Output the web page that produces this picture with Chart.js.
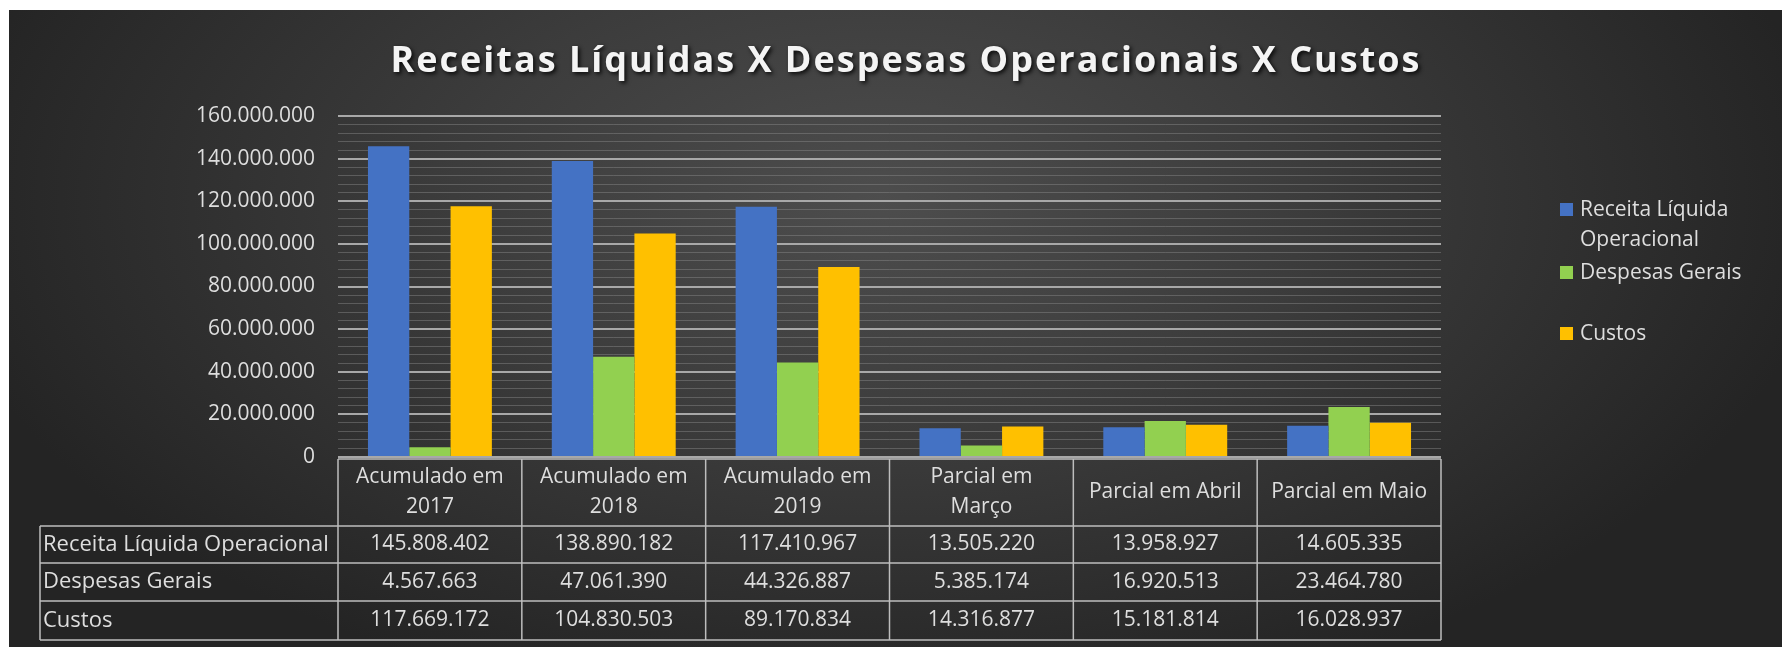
<!DOCTYPE html>
<html>
<head>
<meta charset="utf-8">
<script src="https://cdn.jsdelivr.net/npm/chart.js@4.4.1/dist/chart.umd.min.js"></script>
<style>
  html, body { margin: 0; padding: 0; background: #fff; }
  canvas { display: block; }
</style>
</head>
<body>
<canvas id="chart" width="1782" height="647"></canvas>
<script>
// Chart data
const chartTitle = 'Receitas Líquidas X Despesas Operacionais X Custos';
const categories = [
    ['Acumulado em', '2017'],
    ['Acumulado em', '2018'],
    ['Acumulado em', '2019'],
    ['Parcial em', 'Março'],
    'Parcial em Abril',
    'Parcial em Maio'
];
const seriesNames = ['Receita Líquida Operacional', 'Despesas Gerais', 'Custos'];
const receita = [145808402, 138890182, 117410967, 13505220, 13958927, 14605335];
const despesas = [4567663, 47061390, 44326887, 5385174, 16920513, 23464780];
const custos = [117669172, 104830503, 89170834, 14316877, 15181814, 16028937];
const seriesColors = ['#4472C4', '#92D050', '#FFC000'];
const yMin = 0;
const yMax = 160000000;
const yMajorStep = 20000000;
const yMinorStep = 4000000;

const FONT = '"Open Sans", "Noto Sans", sans-serif';
const TEXT_COLOR = '#dedede';
const LINE_COLOR = '#bdbdbd';

// format with dots as thousands separator
function fmt(v) {
    return String(Math.round(v)).replace(/\B(?=(\d{3})+(?!\d))/g, '.');
}

// Background: white frame + dark radial gradient
const backgroundPlugin = {
    id: 'bg',
    beforeDraw(chart) {
        const ctx = chart.ctx;
        const w = chart.width, h = chart.height;
        ctx.save();
        ctx.fillStyle = '#ffffff';
        ctx.fillRect(0, 0, w, h);
        ctx.beginPath();
        ctx.rect(9, 10, w - 9, h - 10);
        ctx.clip();
        ctx.translate(880, 200);
        ctx.scale(1, 0.55);
        const g = ctx.createRadialGradient(0, 0, 0, 0, 0, 950);
        g.addColorStop(0, '#4d4d4d');
        g.addColorStop(0.45, '#3c3c3c');
        g.addColorStop(1, '#242424');
        ctx.fillStyle = g;
        ctx.fillRect(-900, -400, 2000, 1400);
        ctx.restore();
    }
};

// Title with expanded spacing and shadow
const titlePlugin = {
    id: 'bigTitle',
    afterDraw(chart) {
        const ctx = chart.ctx;
        ctx.save();
        ctx.font = 'bold 36px ' + FONT;
        ctx.letterSpacing = '2px';
        ctx.textAlign = 'center';
        ctx.textBaseline = 'alphabetic';
        ctx.shadowColor = 'rgba(0,0,0,0.85)';
        ctx.shadowBlur = 4;
        ctx.shadowOffsetX = 2;
        ctx.shadowOffsetY = 2;
        ctx.fillStyle = '#f4f4f4';
        ctx.fillText(chartTitle, 906, 72);
        ctx.restore();
    }
};

// Legend drawn on the right
const legendPlugin = {
    id: 'sideLegend',
    afterDraw(chart) {
        const ctx = chart.ctx;
        const items = [
            { lines: ['Receita Líquida', 'Operacional'], y: 210 },
            { lines: ['Despesas Gerais'], y: 273 },
            { lines: ['Custos'], y: 334 }
        ];
        ctx.save();
        ctx.font = '21px ' + FONT;
        ctx.textBaseline = 'middle';
        ctx.textAlign = 'left';
        items.forEach((it, i) => {
            const ds = chart.data.datasets[i];
            ctx.fillStyle = ds.backgroundColor;
            ctx.fillRect(1560, it.y - 7, 13, 13);
            ctx.fillStyle = TEXT_COLOR;
            it.lines.forEach((ln, k) => ctx.fillText(ln, 1580, it.y + k * 30));
        });
        ctx.restore();
    }
};

// Data table under the x axis
const tablePlugin = {
    id: 'dataTable',
    afterDraw(chart) {
        const ctx = chart.ctx;
        const xs = chart.scales.x;
        const area = chart.chartArea;
        const n = categories.length;
        const colW = (area.right - area.left) / n;
        const labelLeft = 40;
        const headTop = area.bottom + 2;
        const rowTops = [526, 563, 601, 640];
        const rows = [receita, despesas, custos];

        ctx.save();
        ctx.strokeStyle = LINE_COLOR;
        ctx.lineWidth = 1.5;
        ctx.beginPath();
        // horizontal lines
        ctx.moveTo(area.left, headTop); ctx.lineTo(area.right, headTop);
        rowTops.forEach(y => { ctx.moveTo(labelLeft, y); ctx.lineTo(area.right, y); });
        // vertical lines
        ctx.moveTo(labelLeft, rowTops[0]); ctx.lineTo(labelLeft, rowTops[3]);
        for (let i = 0; i <= n; i++) {
            const x = area.left + i * colW;
            ctx.moveTo(x, headTop); ctx.lineTo(x, rowTops[3]);
        }
        ctx.stroke();

        ctx.fillStyle = TEXT_COLOR;
        ctx.textBaseline = 'middle';
        rows.forEach((vals, r) => {
            const cy = (rowTops[r] + rowTops[r + 1]) / 2;
            ctx.font = '22px ' + FONT;
            ctx.textAlign = 'left';
            ctx.fillText(seriesNames[r], labelLeft + 3, cy);
            ctx.font = '21px ' + FONT;
            ctx.textAlign = 'center';
            vals.forEach((v, i) => ctx.fillText(fmt(v), xs.getPixelForValue(i), cy));
        });
        ctx.restore();
    }
};

const ctx = document.getElementById('chart').getContext('2d');
new Chart(ctx, {
    type: 'bar',
    data: {
        labels: categories,
        datasets: seriesNames.map((name, i) => ({
            label: name,
            data: [receita, despesas, custos][i],
            backgroundColor: seriesColors[i],
            borderWidth: 0,
            categoryPercentage: 0.674,
            barPercentage: 1.0
        }))
    },
    options: {
        responsive: false,
        animation: false,
        layout: { padding: { top: 116, left: 0, right: 341, bottom: 0 } },
        plugins: {
            legend: { display: false },
            title: { display: false },
            tooltip: { enabled: false }
        },
        scales: {
            x: {
                grid: { display: false, drawTicks: false },
                border: { display: false },
                ticks: {
                    color: TEXT_COLOR,
                    font: { family: FONT, size: 21, lineHeight: 1.43 },
                    padding: 20,
                    autoSkip: false,
                    maxRotation: 0,
                    crossAlign: 'center'
                },
                afterFit(scale) { scale.height = 190; }
            },
            y: {
                min: yMin,
                max: yMax,
                grid: {
                    drawTicks: false,
                    color: c => (c.tick.value % yMajorStep === 0) ? '#a8a8a8' : 'rgba(140,140,140,0.45)',
                    lineWidth: c => (c.tick.value % yMajorStep === 0) ? 2 : 1
                },
                border: { display: false },
                ticks: {
                    stepSize: yMinorStep,
                    autoSkip: false,
                    color: TEXT_COLOR,
                    font: { family: FONT, size: 21 },
                    padding: 23,
                    callback: v => (v % yMajorStep === 0) ? fmt(v) : ''
                },
                afterFit(scale) { scale.width = 338; }
            }
        }
    },
    plugins: [backgroundPlugin, tablePlugin, titlePlugin, legendPlugin]
});
</script>
</body>
</html>
